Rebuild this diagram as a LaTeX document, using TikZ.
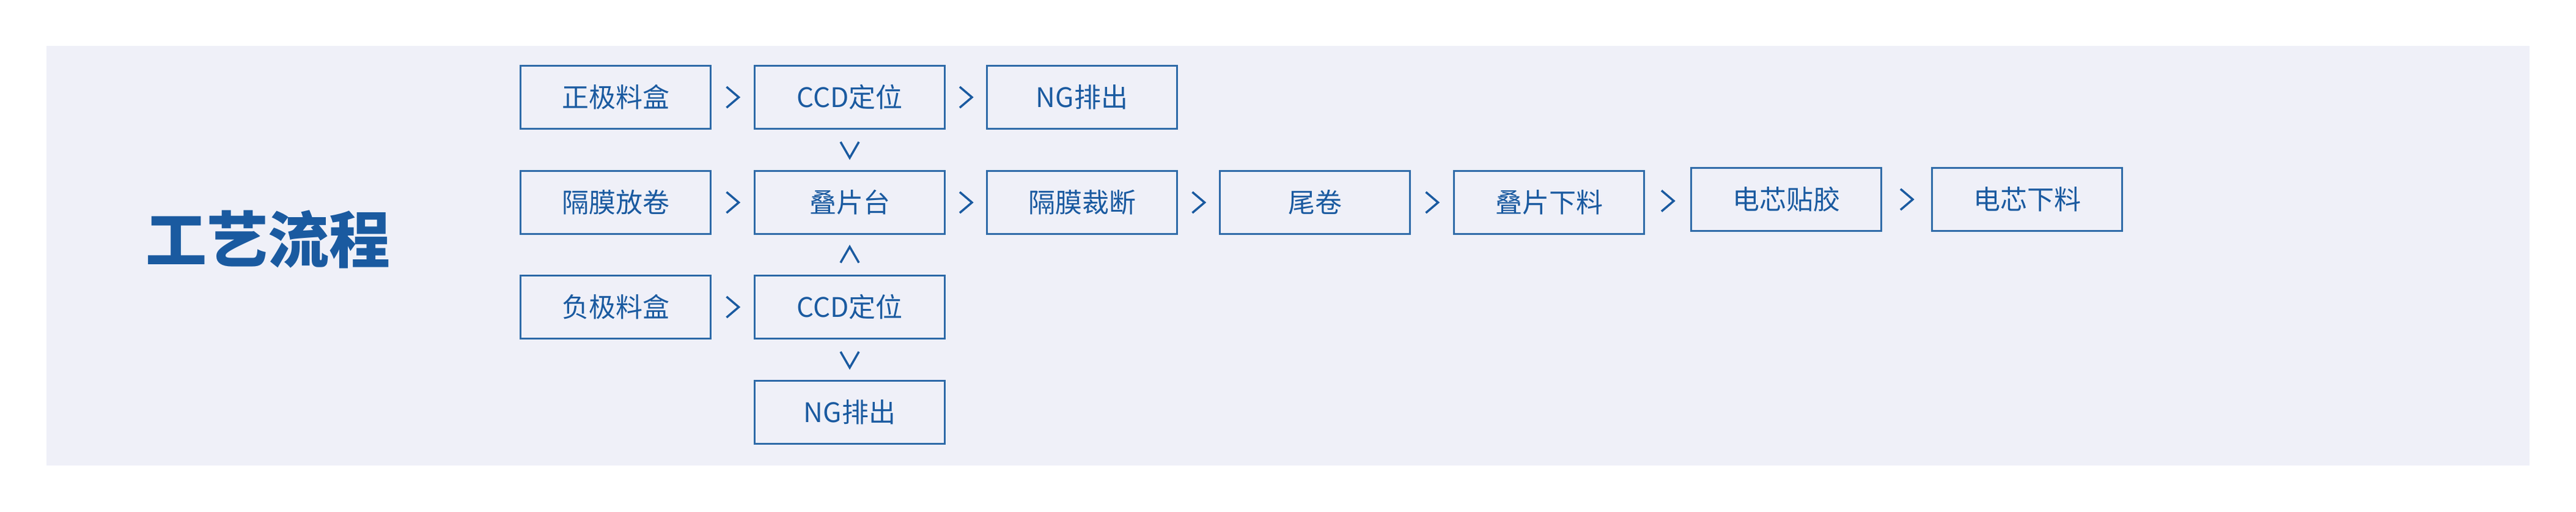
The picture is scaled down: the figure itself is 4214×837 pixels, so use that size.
\documentclass[tikz,border=0pt]{standalone}
\usetikzlibrary{calc}
\usepackage{fontspec}
\newfontfamily\cjk{Noto Sans CJK SC}
\definecolor{bg}{HTML}{EFF0F8}
\definecolor{bl}{HTML}{1A5AA0}
\definecolor{bd}{HTML}{2E6AA8}
\begin{document}
\begin{tikzpicture}[x=1pt,y=-1pt,
  box/.style={draw=bd,line width=2.5pt,fill=bg,minimum width=311pt,minimum height=103pt,inner sep=0pt,font=\cjk\fontsize{44}{48}\selectfont,text=bl},
  chev/.style={draw=bl,line width=3.5pt}]
\useasboundingbox (0,0) rectangle (4214,837);
\fill[white] (0,0) rectangle (4214,837);
\fill[bg] (76,75) rectangle (4138,761);
\node[text=bl,font=\cjk\bfseries\fontsize{100}{110}\selectfont] (title) at (438,391) {工艺流程};
\node[box] (a1) at (1007,159) {正极料盒};
\node[box] (a2) at (1390,159) {CCD定位};
\node[box] (a3) at (1770,159) {NG排出};
\node[box] (b1) at (1007,331) {隔膜放卷};
\node[box] (b2) at (1390,331) {叠片台};
\node[box] (b3) at (1770,331) {隔膜裁断};
\node[box] (b4) at (2151,331) {尾卷};
\node[box] (b5) at (2534,331) {叠片下料};
\node[box] (b6) at (2922,326) {电芯贴胶};
\node[box] (b7) at (3316,326) {电芯下料};
\node[box] (c1) at (1007,502) {负极料盒};
\node[box] (c2) at (1390,502) {CCD定位};
\node[box] (d2) at (1390,674) {NG排出};
\foreach \l/\r in {a1/a2,a2/a3,b1/b2,b2/b3,b3/b4,b4/b5,b5/b6,b6/b7,c1/c2}{
  \coordinate (m) at ($(\l.east)!0.5!(\r.west)$);
  \draw[chev] ([shift={(-10,-17)}]m) -- ([shift={(10,0)}]m) -- ([shift={(-10,17)}]m);
}
\foreach \t/\b in {a2/b2,c2/d2}{
  \coordinate (m) at ($(\t.south)!0.5!(\b.north)$);
  \draw[chev] ([shift={(-15,-13)}]m) -- ([shift={(0,13)}]m) -- ([shift={(15,-13)}]m);
}
\coordinate (m) at ($(b2.south)!0.5!(c2.north)$);
\draw[chev] ([shift={(-15,13)}]m) -- ([shift={(0,-13)}]m) -- ([shift={(15,13)}]m);
\end{tikzpicture}
\end{document}
